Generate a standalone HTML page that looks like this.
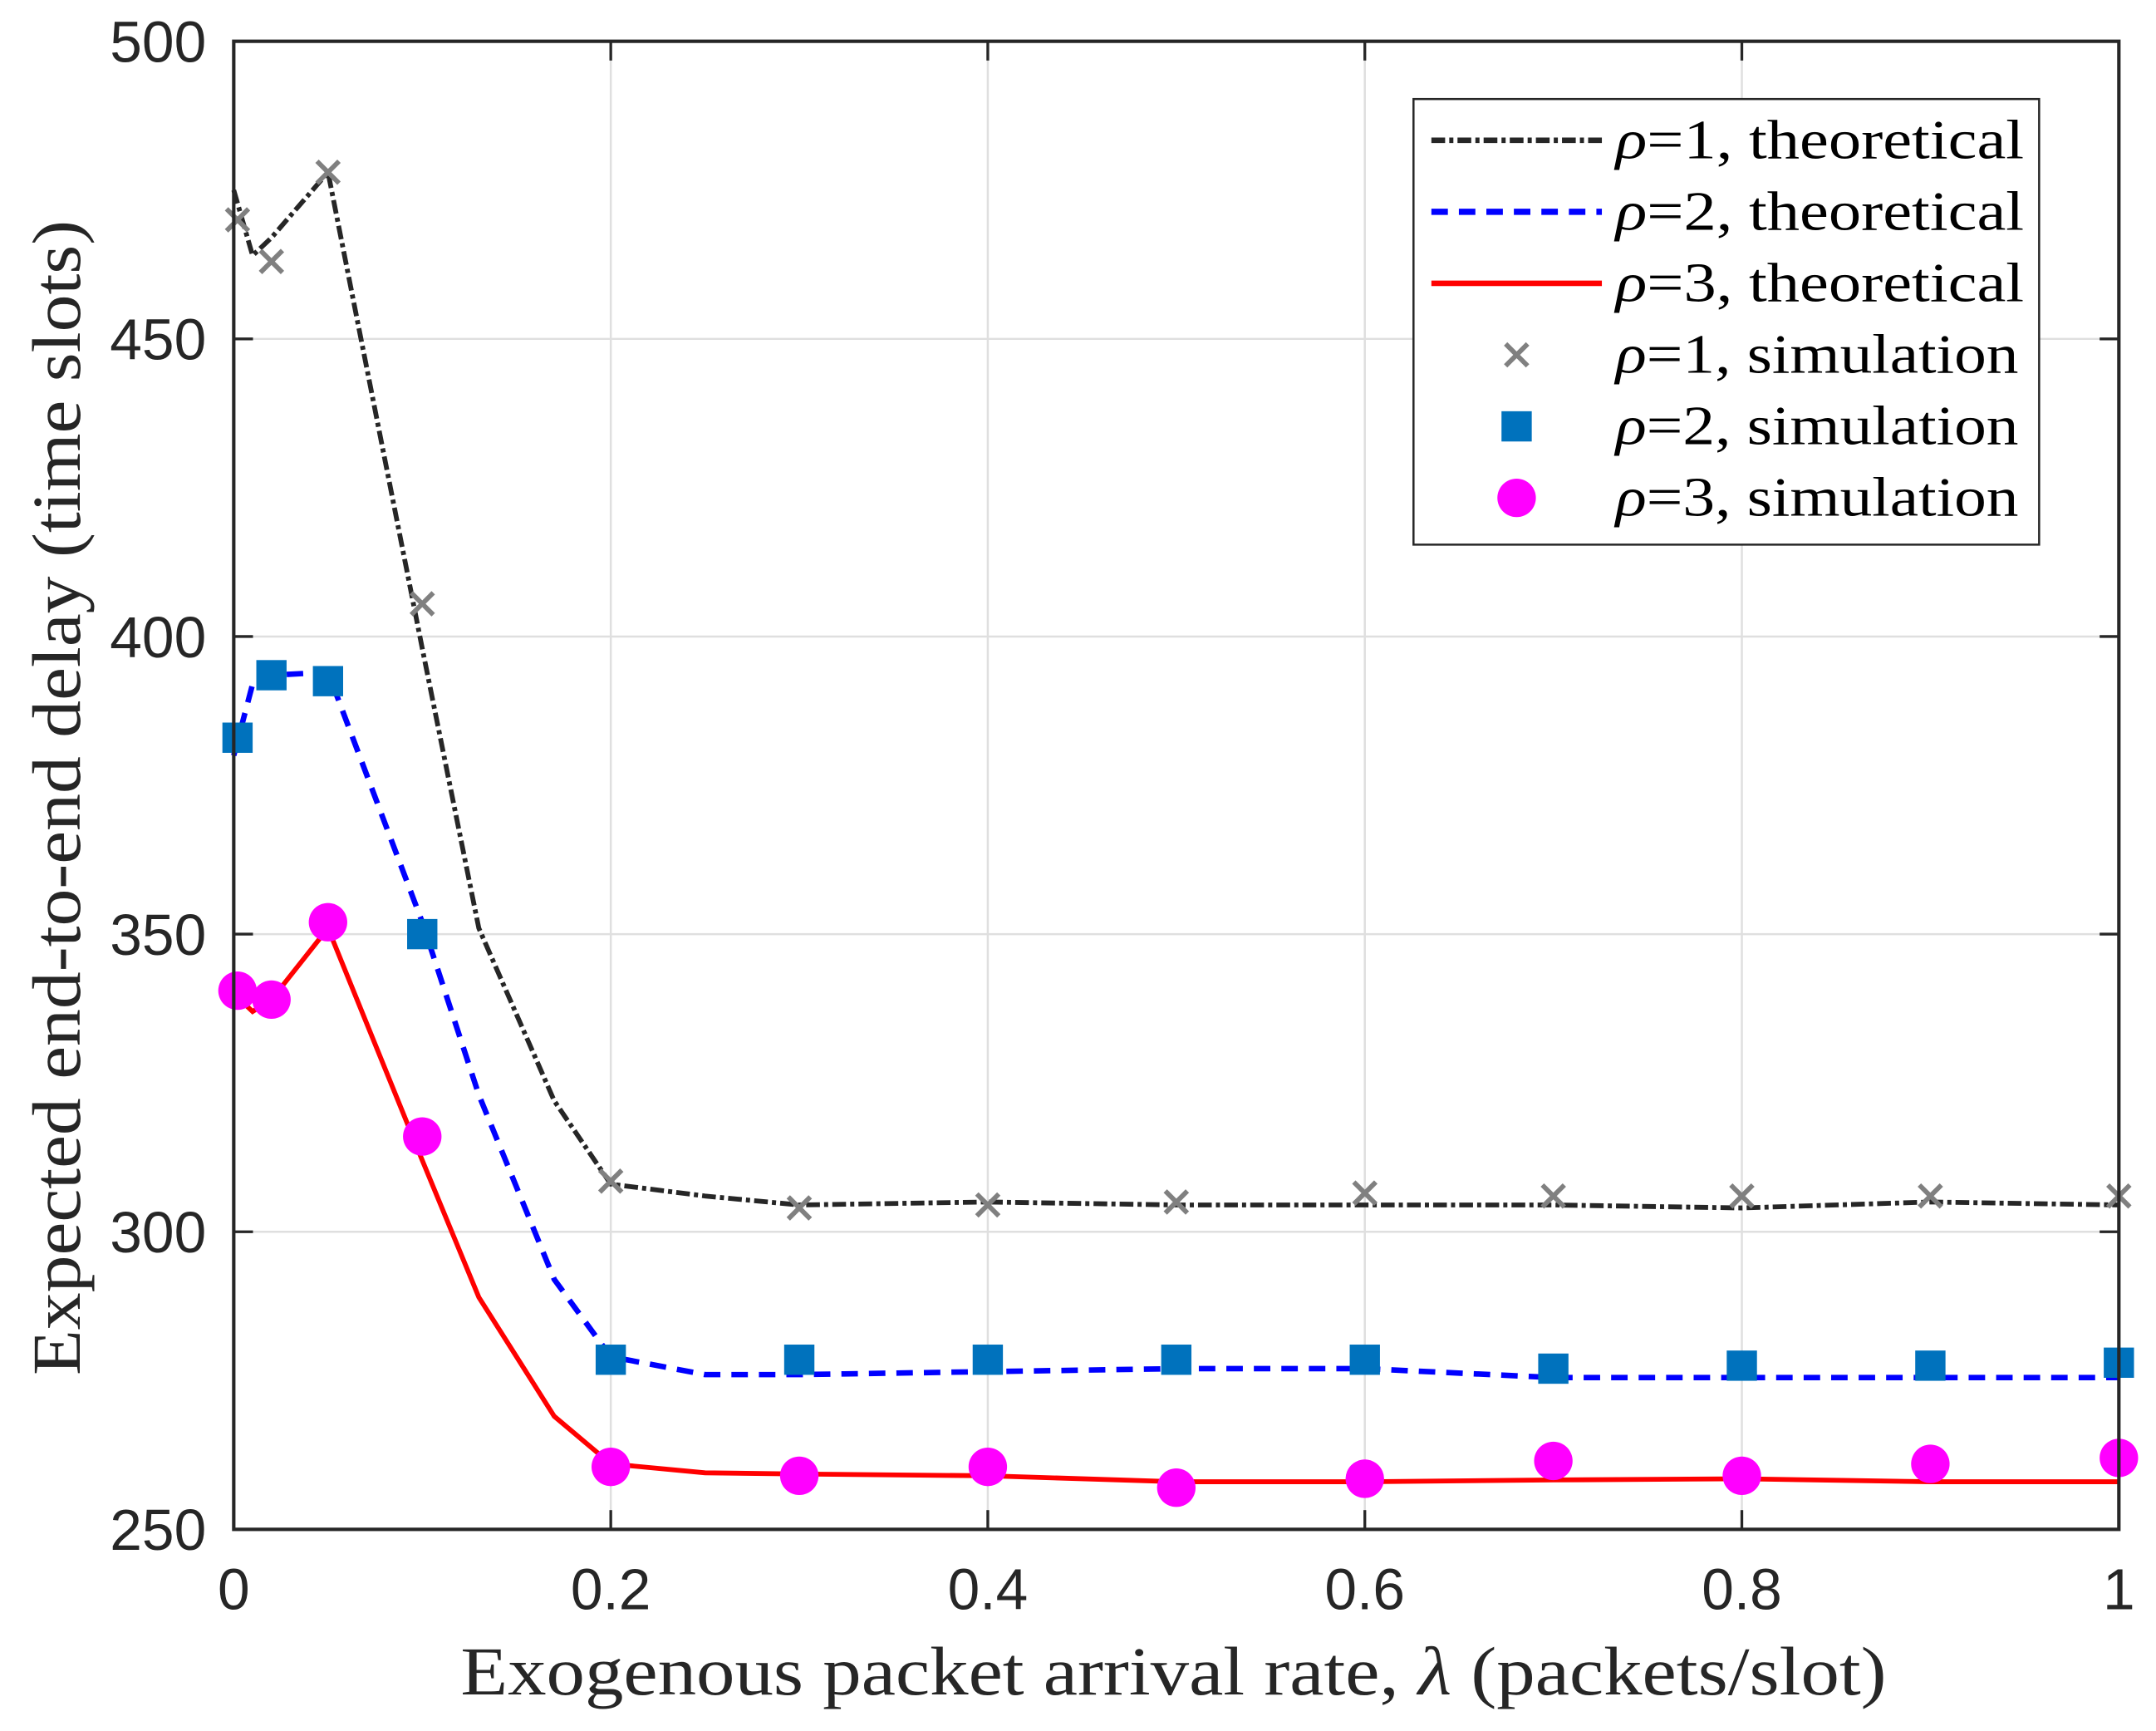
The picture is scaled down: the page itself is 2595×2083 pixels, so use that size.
<!DOCTYPE html>
<html><head><meta charset="utf-8"><style>
html,body{margin:0;padding:0;background:#fff;}
svg{display:block;}
.tick{font-family:"Liberation Sans",sans-serif;font-size:42px;fill:#262626;}
.lab{font-family:"Liberation Serif",serif;font-size:50px;fill:#262626;}
.leg{font-family:"Liberation Serif",serif;font-size:40px;fill:#000;}
</style></head><body>
<svg id="chart" width="2595" height="2083" viewBox="0 0 1568 1258.6" xmlns="http://www.w3.org/2000/svg">
<rect x="0" y="0" width="1568" height="1259" fill="#fff"/>
<g id="grid"></g>
<g id="series"></g>
<rect x="170" y="30" width="1371" height="1082" fill="none" stroke="#262626" stroke-width="2.5"/>
<g id="ticks"></g>
<text class="lab" x="335" y="1232" textLength="1037" lengthAdjust="spacingAndGlyphs">Exogenous packet arrival rate, <tspan font-style="italic">λ</tspan> (packets/slot)</text>
<text class="lab" transform="translate(58,1000) rotate(-90)" textLength="840" lengthAdjust="spacingAndGlyphs">Expected end-to-end delay (time slots)</text>
<g id="legend">
<rect x="1028" y="72" width="455" height="324" fill="#fff" stroke="#262626" stroke-width="1.5"/>
</g>
</svg>
<script>
const xTicks=[0,0.2,0.4,0.6,0.8,1];
const xTickLabels=["0","0.2","0.4","0.6","0.8","1"];
const yTicks=[250,300,350,400,450,500];
const yTickLabels=["250","300","350","400","450","500"];
const xTheory=[0,0.01,0.02,0.05,0.1,0.13,0.17,0.2,0.25,0.3,0.4,0.5,0.6,0.7,0.8,0.9,1];
const theory1=[475,464,467,478,398,351,322,308,306,304.5,305,304.5,304.5,304.5,304,305,304.5];
const theory2=[380,392,393.5,394,352,323,292,279,276,276,276.5,277,277,275.5,275.5,275.5,275.5];
const theory3=[340,337,339,351,312,289,269,261,259.5,259.3,259,258,258,258.3,258.5,258,258];
const xSim=[0.002,0.02,0.05,0.1,0.2,0.3,0.4,0.5,0.6,0.7,0.8,0.9,1];
const sim1=[470,463,478,405.5,308.5,304,304.5,305,306.5,306,306,306,306];
const sim2=[383,393.5,392.5,350,278.5,278.5,278.5,278.5,278.5,277,277.5,277.5,278];
const sim3=[340.5,339,352,316,260.5,259,260.5,257,258.5,261.5,259,261,262];

const NS="http://www.w3.org/2000/svg";
const X=v=>170+v*1371;
const Y=v=>1112-(v-250)/250*1082;
function mk(tag,attrs,parent){const e=document.createElementNS(NS,tag);for(const k in attrs)e.setAttribute(k,attrs[k]);parent.appendChild(e);return e;}
const grid=document.getElementById('grid'),ticks=document.getElementById('ticks'),ser=document.getElementById('series'),leg=document.getElementById('legend');
xTicks.forEach((t,i)=>{
  const g=mk('line',{x1:X(t),x2:X(t),y1:30,y2:1112,stroke:'#dfdfdf','stroke-width':1.5},grid);
  
  
  mk('line',{x1:X(t),x2:X(t),y1:1112,y2:1098,stroke:'#262626','stroke-width':2},ticks);
  mk('line',{x1:X(t),x2:X(t),y1:30,y2:44,stroke:'#262626','stroke-width':2},ticks);
  const tx=mk('text',{x:X(t),y:1170,'text-anchor':'middle',class:'tick'},ticks);
  tx.textContent=xTickLabels[i];
  
  
});
yTicks.forEach((t,i)=>{
  const g=mk('line',{x1:170,x2:1541,y1:Y(t),y2:Y(t),stroke:'#dfdfdf','stroke-width':1.5},grid);
  
  
  mk('line',{x1:170,x2:184,y1:Y(t),y2:Y(t),stroke:'#262626','stroke-width':2},ticks);
  mk('line',{x1:1541,x2:1527,y1:Y(t),y2:Y(t),stroke:'#262626','stroke-width':2},ticks);
  const tx=mk('text',{x:150,y:Y(t)+15,'text-anchor':'end',class:'tick'},ticks);
  tx.textContent=yTickLabels[i];
  
  
});
const styles=[
 {c:'#262626',d:'10 3 3 3',w:3.5},
 {c:'#0000ff',d:'12 8',w:4},
 {c:'#ff0000',d:'',w:3.5}];
[theory1,theory2,theory3].forEach((s,k)=>{
  const p=mk('polyline',{points:s.map((v,i)=>X(xTheory[i])+','+Y(v)).join(' '),fill:'none',stroke:styles[k].c,'stroke-width':styles[k].w,'stroke-dasharray':styles[k].d},ser);
  
  
});
function cross(cx,cy,parent){const g=mk('g',{stroke:'#808080','stroke-width':3.5},parent);mk('line',{x1:cx-8,y1:cy-8,x2:cx+8,y2:cy+8},g);mk('line',{x1:cx-8,y1:cy+8,x2:cx+8,y2:cy-8},g);return g;}
sim1.forEach((v,i)=>{const g=cross(X(xSim[i]),Y(v),ser);
  
  });
sim2.forEach((v,i)=>{const r=mk('rect',{x:X(xSim[i])-11,y:Y(v)-11,width:22,height:22,fill:'#0072bd'},ser);
  
  });
sim3.forEach((v,i)=>{const c=mk('circle',{cx:X(xSim[i]),cy:Y(v),r:14,fill:'#ff00ff'},ser);
  
  });
const labels=['1, theoretical','2, theoretical','3, theoretical','1, simulation','2, simulation','3, simulation'];
labels.forEach((l,i)=>{
  const y=102+i*52;
  if(i<3){mk('line',{x1:1041,x2:1165,y1:y,y2:y,stroke:styles[i].c,'stroke-width':styles[i].w+0.5,'stroke-dasharray':styles[i].d},leg);}
  else if(i==3){cross(1103,y,leg);}
  else if(i==4){mk('rect',{x:1092,y:y-11,width:22,height:22,fill:'#0072bd'},leg);}
  else{mk('circle',{cx:1103,cy:y,r:14,fill:'#ff00ff'},leg);}
  const t=mk('text',{x:1175,y:y+13,class:'leg',textLength:(i<3?297:293),lengthAdjust:'spacingAndGlyphs'},leg);
  t.innerHTML='<tspan font-style="italic">ρ</tspan>='+l;
  
  
});
</script>
</body></html>
